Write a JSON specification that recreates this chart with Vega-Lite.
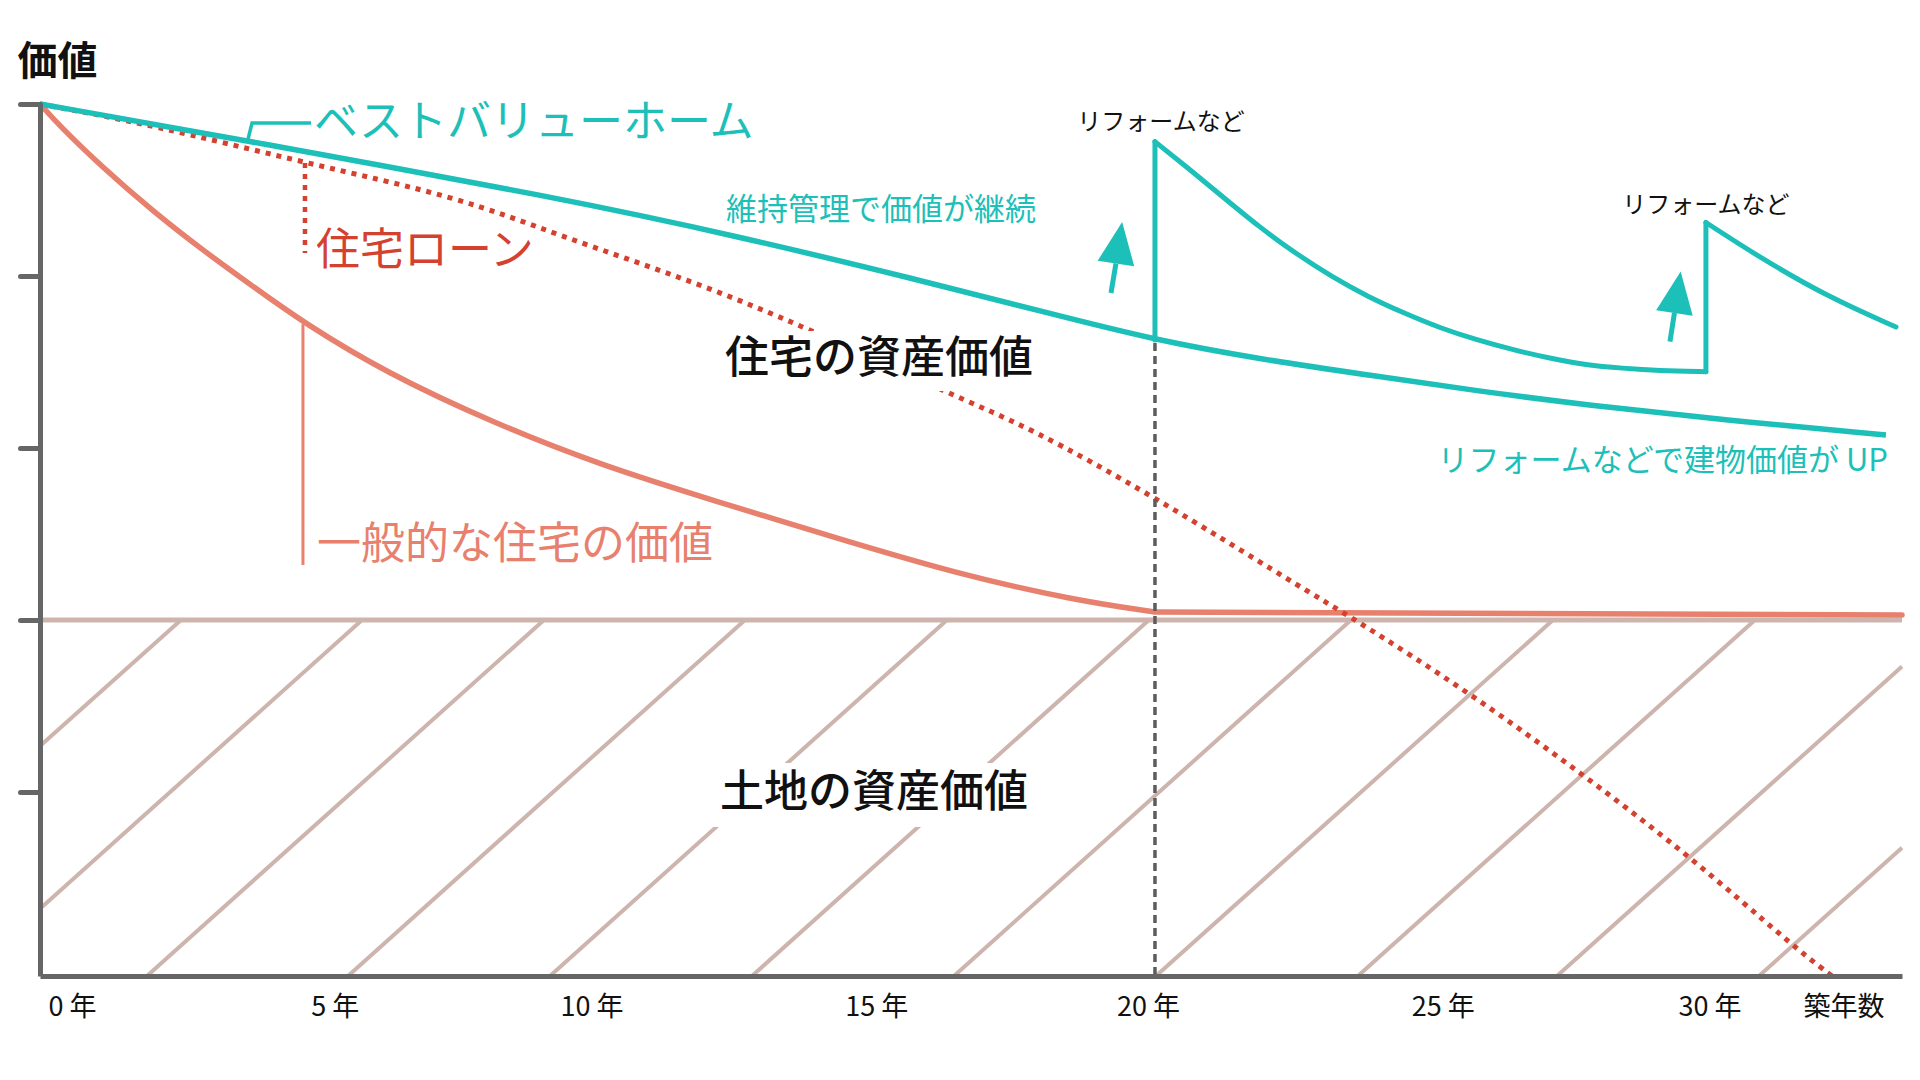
{
  "$schema": "https://vega.github.io/schema/vega-lite/v6.json",
  "width": 1862,
  "height": 872,
  "autosize": {"type": "none"},
  "padding": {"left": 40, "top": 104, "right": 18, "bottom": 104},
  "background": "#ffffff",
  "config": {"view": {"stroke": null}, "font": "Noto Sans CJK JP"},
  "datasets": {
    "hatch": [
      {"yr": 2.529, "v": 40, "yr2": 0, "v2": 25.35},
      {"yr": 5.776, "v": 40, "yr2": 0, "v2": 6.42},
      {"yr": 9.04, "v": 40, "yr2": 1.919, "v2": -1.4},
      {"yr": 12.646, "v": 40, "yr2": 5.525, "v2": -1.4},
      {"yr": 16.269, "v": 40, "yr2": 9.148, "v2": -1.4},
      {"yr": 19.892, "v": 40, "yr2": 12.771, "v2": -1.4},
      {"yr": 23.516, "v": 40, "yr2": 16.395, "v2": -1.4},
      {"yr": 27.139, "v": 40, "yr2": 20.018, "v2": -1.4},
      {"yr": 30.762, "v": 40, "yr2": 23.641, "v2": -1.4},
      {"yr": 33.4, "v": 34.58, "yr2": 27.211, "v2": -1.4},
      {"yr": 33.4, "v": 13.52, "yr2": 30.834, "v2": -1.4}
    ],
    "land": [{"yr": 0, "yr2": 33.4, "v": 40}],
    "general": [
      {"yr": 0, "v": 100},
      {"yr": 0.36, "v": 97.4},
      {"yr": 1.11, "v": 92.7},
      {"yr": 2.03, "v": 87.5},
      {"yr": 2.94, "v": 82.9},
      {"yr": 3.86, "v": 78.6},
      {"yr": 4.72, "v": 74.6},
      {"yr": 6.22, "v": 68.7},
      {"yr": 8.14, "v": 62.9},
      {"yr": 10.06, "v": 58.0},
      {"yr": 12.18, "v": 53.7},
      {"yr": 14.3, "v": 49.5},
      {"yr": 16.43, "v": 45.4},
      {"yr": 18.55, "v": 42.3},
      {"yr": 20.0, "v": 40.93}
    ],
    "generalFlat": [
      {"yr": 20.0, "v": 40.93},
      {"yr": 33.4, "v": 40.58}
    ],
    "loan": [
      {"yr": 0, "v": 100},
      {"yr": 2.027, "v": 97.56},
      {"yr": 4.753, "v": 93.14},
      {"yr": 7.516, "v": 89.19},
      {"yr": 9.327, "v": 84.65},
      {"yr": 11.659, "v": 79.53},
      {"yr": 13.776, "v": 73.95},
      {"yr": 16.305, "v": 66.28},
      {"yr": 17.74, "v": 62.44},
      {"yr": 20.0, "v": 54.3},
      {"yr": 22.601, "v": 43.84},
      {"yr": 23.516, "v": 40.35},
      {"yr": 25.65, "v": 31.51},
      {"yr": 27.641, "v": 22.21},
      {"yr": 29.614, "v": 12.44},
      {"yr": 31.462, "v": 1.98},
      {"yr": 32.143, "v": -1.4}
    ],
    "boxes": [
      {"yr": 12.054, "yr2": 17.937, "v": 73.6, "v2": 66.63},
      {"yr": 12.054, "yr2": 17.865, "v": 23.37, "v2": 15.93}
    ],
    "marker": [{"yr": 20, "v": 72.2, "v2": -1.4}],
    "teal": [
      {"yr": 0, "v": 100},
      {"yr": 3.731, "v": 95.7},
      {"yr": 9.327, "v": 89.07},
      {"yr": 12.538, "v": 84.6},
      {"yr": 15.731, "v": 79.6},
      {"yr": 18.135, "v": 75.6},
      {"yr": 20.0, "v": 72.56},
      {"yr": 21.866, "v": 70.35},
      {"yr": 23.821, "v": 68.49},
      {"yr": 25.776, "v": 66.63},
      {"yr": 27.749, "v": 65.0},
      {"yr": 30.206, "v": 63.26},
      {"yr": 33.112, "v": 61.51}
    ],
    "reform": [
      {"seg": "a", "yr": 20.0, "v": 95.62},
      {"seg": "a", "yr": 20.563, "v": 92.71},
      {"seg": "a", "yr": 21.214, "v": 89.22},
      {"seg": "a", "yr": 21.865, "v": 85.73},
      {"seg": "a", "yr": 22.518, "v": 82.64},
      {"seg": "a", "yr": 23.171, "v": 79.92},
      {"seg": "a", "yr": 23.821, "v": 77.59},
      {"seg": "a", "yr": 24.475, "v": 75.66},
      {"seg": "a", "yr": 25.126, "v": 73.92},
      {"seg": "a", "yr": 25.776, "v": 72.56},
      {"seg": "a", "yr": 26.43, "v": 71.4},
      {"seg": "a", "yr": 27.082, "v": 70.43},
      {"seg": "a", "yr": 27.731, "v": 69.65},
      {"seg": "a", "yr": 28.387, "v": 69.27},
      {"seg": "a", "yr": 29.04, "v": 68.99},
      {"seg": "a", "yr": 29.883, "v": 68.87},
      {"seg": "b", "yr": 29.883, "v": 86.22},
      {"seg": "b", "yr": 30.834, "v": 82.21},
      {"seg": "b", "yr": 32.072, "v": 77.56},
      {"seg": "b", "yr": 33.292, "v": 74.07}
    ],
    "jumps": [
      {"yr": 20.0, "v": 72.56, "v2": 95.62},
      {"yr": 29.883, "v": 68.87, "v2": 86.22}
    ],
    "arrows": [
      {"yr": 19.211, "v": 78.02, "yr2": 19.3, "v2": 81.45},
      {"yr": 29.238, "v": 72.36, "yr2": 29.318, "v2": 75.7}
    ],
    "bracket": [
      {"o": 1, "yr": 3.731, "v": 95.9},
      {"o": 2, "yr": 3.803, "v": 97.79},
      {"o": 3, "yr": 4.861, "v": 97.79}
    ],
    "genLink": [{"yr": 4.717, "v": 74.4, "v2": 46.4}],
    "loanLink": [{"yr": 4.753, "v": 93.14, "v2": 82.67}],
    "labels": [
      {"t": "ベストバリューホーム", "yr": 4.915, "v": 97.67, "k": "tealL"},
      {"t": "住宅ローン", "yr": 4.951, "v": 82.79, "k": "loanL"},
      {"t": "一般的な住宅の価値", "yr": 4.969, "v": 48.6, "k": "genL"},
      {"t": "維持管理で価値が継続", "yr": 15.085, "v": 87.56, "k": "tealM"},
      {"t": "住宅の資産価値", "yr": 15.05, "v": 70.23, "k": "black"},
      {"t": "土地の資産価値", "yr": 14.96, "v": 19.77, "k": "black"},
      {"t": "リフォームなど", "yr": 20.108, "v": 97.79, "k": "small"},
      {"t": "リフォームなど", "yr": 29.883, "v": 88.14, "k": "small"},
      {"t": "リフォームなどで建物価値が UP", "yr": 33.148, "v": 58.37, "k": "tealR"}
    ]
  },
  "layer": [
    {
      "data": {"name": "hatch"},
      "mark": {"type": "rule", "color": "#cdb4ad", "strokeWidth": 4},
      "encoding": {
        "x": {
          "field": "yr", "type": "quantitative",
          "scale": {"domain": [0, 33.4], "nice": false, "zero": false},
          "axis": {
            "values": [0, 5, 10, 15, 20, 25, 30, 32.35],
            "labelExpr": "datum.value > 31 ? '築年数' : datum.value + ' 年'",
            "labelOffset": {"expr": "datum.value == 0 ? 32 : datum.value == 5 ? 16 : datum.value == 10 ? -6 : datum.value == 20 ? -7 : datum.value == 25 ? 9 : datum.value == 30 ? -3 : 0"},
            "ticks": false, "tickSize": 0, "grid": false,
            "domainColor": "#666666", "domainWidth": 5,
            "labelFontSize": 27, "labelColor": "#111111",
            "labelPadding": 31, "labelBaseline": "middle",
            "labelFlush": false, "labelOverlap": false,
            "title": null, "zindex": 1
          }
        },
        "y": {
          "field": "v", "type": "quantitative",
          "scale": {"domain": [-1.4, 100], "nice": false, "zero": false},
          "axis": {
            "values": [20, 40, 60, 80, 100],
            "labels": false, "grid": false,
            "tickSize": 20, "tickWidth": 5, "tickColor": "#666666", "tickCap": "round",
            "domainColor": "#666666", "domainWidth": 5,
            "title": "価値", "titleAngle": 0, "titleX": 17, "titleY": -42,
            "titleAlign": "center", "titleBaseline": "middle",
            "titleFontSize": 40, "titleFontWeight": "bold", "titleColor": "#111111",
            "zindex": 1
          }
        },
        "x2": {"field": "yr2"},
        "y2": {"field": "v2"}
      }
    },
    {
      "data": {"name": "land"},
      "mark": {"type": "rule", "color": "#cdb4ad", "strokeWidth": 5},
      "encoding": {
        "x": {"field": "yr", "type": "quantitative"},
        "x2": {"field": "yr2"},
        "y": {"field": "v", "type": "quantitative"}
      }
    },
    {
      "data": {"name": "general"},
      "mark": {"type": "line", "color": "#e8806e", "strokeWidth": 5.5, "interpolate": "basis"},
      "encoding": {
        "x": {"field": "yr", "type": "quantitative"},
        "y": {"field": "v", "type": "quantitative"}
      }
    },
    {
      "data": {"name": "generalFlat"},
      "mark": {"type": "line", "color": "#e8806e", "strokeWidth": 5.5, "strokeCap": "round"},
      "encoding": {
        "x": {"field": "yr", "type": "quantitative"},
        "y": {"field": "v", "type": "quantitative"}
      }
    },
    {
      "data": {"name": "loan"},
      "mark": {"type": "line", "color": "#d4412f", "strokeWidth": 5, "strokeDash": [5, 6], "interpolate": "basis"},
      "encoding": {
        "x": {"field": "yr", "type": "quantitative"},
        "y": {"field": "v", "type": "quantitative"}
      }
    },
    {
      "data": {"name": "boxes"},
      "mark": {"type": "rect", "color": "#ffffff"},
      "encoding": {
        "x": {"field": "yr", "type": "quantitative"},
        "x2": {"field": "yr2"},
        "y": {"field": "v", "type": "quantitative"},
        "y2": {"field": "v2"}
      }
    },
    {
      "data": {"name": "marker"},
      "mark": {"type": "rule", "color": "#5c5c5c", "strokeWidth": 3.5, "strokeDash": [8, 5]},
      "encoding": {
        "x": {"field": "yr", "type": "quantitative"},
        "y": {"field": "v", "type": "quantitative"},
        "y2": {"field": "v2"}
      }
    },
    {
      "data": {"name": "teal"},
      "mark": {"type": "line", "color": "#1dbfb9", "strokeWidth": 5.5, "interpolate": "basis"},
      "encoding": {
        "x": {"field": "yr", "type": "quantitative"},
        "y": {"field": "v", "type": "quantitative"}
      }
    },
    {
      "data": {"name": "reform"},
      "mark": {"type": "line", "color": "#1dbfb9", "strokeWidth": 5, "interpolate": "basis", "strokeCap": "round"},
      "encoding": {
        "x": {"field": "yr", "type": "quantitative"},
        "y": {"field": "v", "type": "quantitative"},
        "detail": {"field": "seg"}
      }
    },
    {
      "data": {"name": "jumps"},
      "mark": {"type": "rule", "color": "#1dbfb9", "strokeWidth": 5, "strokeCap": "round"},
      "encoding": {
        "x": {"field": "yr", "type": "quantitative"},
        "y": {"field": "v", "type": "quantitative"},
        "y2": {"field": "v2"}
      }
    },
    {
      "data": {"name": "arrows"},
      "mark": {"type": "rule", "color": "#1dbfb9", "strokeWidth": 5},
      "encoding": {
        "x": {"field": "yr", "type": "quantitative"},
        "y": {"field": "v", "type": "quantitative"},
        "x2": {"field": "yr2"},
        "y2": {"field": "v2"}
      }
    },
    {
      "data": {"name": "arrows"},
      "mark": {"type": "point", "shape": "M0,-1L0.44,0L-0.44,0Z", "size": 7056, "angle": 8.5, "filled": true, "color": "#1dbfb9", "opacity": 1, "strokeWidth": 0},
      "encoding": {
        "x": {"field": "yr2", "type": "quantitative"},
        "y": {"field": "v2", "type": "quantitative"}
      }
    },
    {
      "data": {"name": "bracket"},
      "mark": {"type": "line", "color": "#1dbfb9", "strokeWidth": 3.5},
      "encoding": {
        "x": {"field": "yr", "type": "quantitative"},
        "y": {"field": "v", "type": "quantitative"},
        "order": {"field": "o"}
      }
    },
    {
      "data": {"name": "genLink"},
      "mark": {"type": "rule", "color": "#e8806e", "strokeWidth": 3},
      "encoding": {
        "x": {"field": "yr", "type": "quantitative"},
        "y": {"field": "v", "type": "quantitative"},
        "y2": {"field": "v2"}
      }
    },
    {
      "data": {"name": "loanLink"},
      "mark": {"type": "rule", "color": "#d4412f", "strokeWidth": 4.5, "strokeDash": [5, 6]},
      "encoding": {
        "x": {"field": "yr", "type": "quantitative"},
        "y": {"field": "v", "type": "quantitative"},
        "y2": {"field": "v2"}
      }
    },
    {
      "data": {"name": "labels"},
      "transform": [{"filter": "datum.k == 'tealL'"}],
      "mark": {"type": "text", "align": "left", "baseline": "middle", "fontSize": 44, "color": "#1dbfb9"},
      "encoding": {
        "x": {"field": "yr", "type": "quantitative"},
        "y": {"field": "v", "type": "quantitative"},
        "text": {"field": "t"}
      }
    },
    {
      "data": {"name": "labels"},
      "transform": [{"filter": "datum.k == 'loanL'"}],
      "mark": {"type": "text", "align": "left", "baseline": "middle", "fontSize": 44, "color": "#d4412f"},
      "encoding": {
        "x": {"field": "yr", "type": "quantitative"},
        "y": {"field": "v", "type": "quantitative"},
        "text": {"field": "t"}
      }
    },
    {
      "data": {"name": "labels"},
      "transform": [{"filter": "datum.k == 'genL'"}],
      "mark": {"type": "text", "align": "left", "baseline": "middle", "fontSize": 44, "color": "#e8806e"},
      "encoding": {
        "x": {"field": "yr", "type": "quantitative"},
        "y": {"field": "v", "type": "quantitative"},
        "text": {"field": "t"}
      }
    },
    {
      "data": {"name": "labels"},
      "transform": [{"filter": "datum.k == 'tealM'"}],
      "mark": {"type": "text", "align": "center", "baseline": "middle", "fontSize": 31, "color": "#1dbfb9"},
      "encoding": {
        "x": {"field": "yr", "type": "quantitative"},
        "y": {"field": "v", "type": "quantitative"},
        "text": {"field": "t"}
      }
    },
    {
      "data": {"name": "labels"},
      "transform": [{"filter": "datum.k == 'tealR'"}],
      "mark": {"type": "text", "align": "right", "baseline": "middle", "fontSize": 31, "color": "#1dbfb9"},
      "encoding": {
        "x": {"field": "yr", "type": "quantitative"},
        "y": {"field": "v", "type": "quantitative"},
        "text": {"field": "t"}
      }
    },
    {
      "data": {"name": "labels"},
      "transform": [{"filter": "datum.k == 'black'"}],
      "mark": {"type": "text", "align": "center", "baseline": "middle", "fontSize": 44, "fontWeight": 500, "color": "#111111"},
      "encoding": {
        "x": {"field": "yr", "type": "quantitative"},
        "y": {"field": "v", "type": "quantitative"},
        "text": {"field": "t"}
      }
    },
    {
      "data": {"name": "labels"},
      "transform": [{"filter": "datum.k == 'small'"}],
      "mark": {"type": "text", "align": "center", "baseline": "middle", "fontSize": 24, "color": "#111111"},
      "encoding": {
        "x": {"field": "yr", "type": "quantitative"},
        "y": {"field": "v", "type": "quantitative"},
        "text": {"field": "t"}
      }
    }
  ]
}
